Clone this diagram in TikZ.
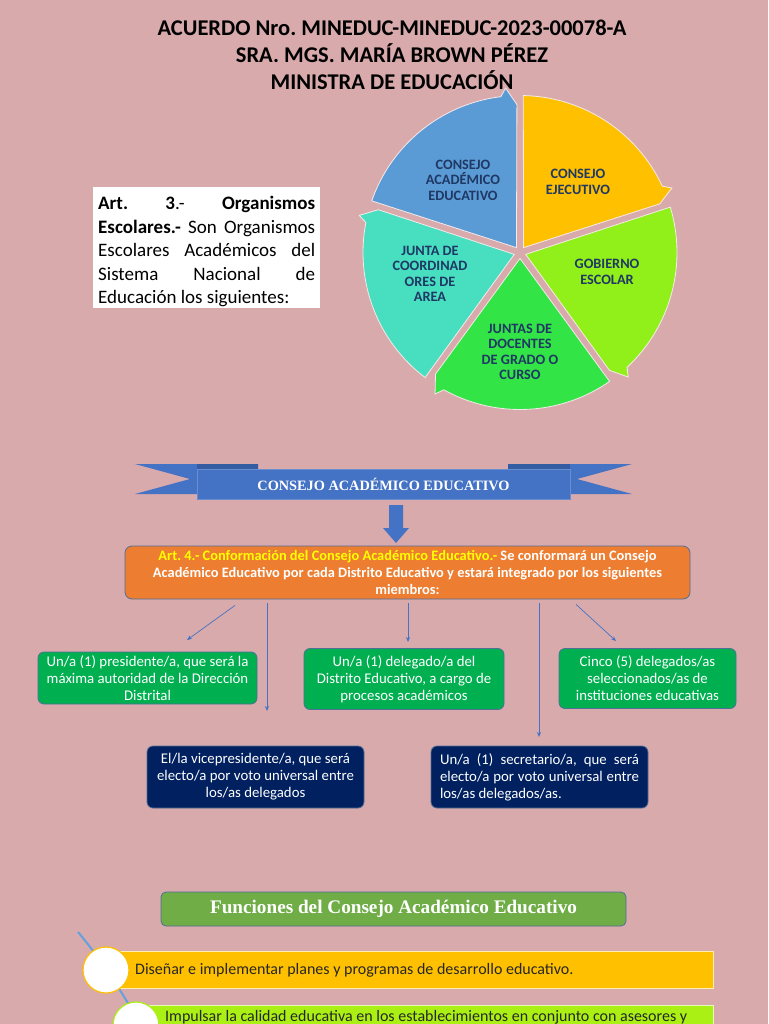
\documentclass[tikz,border=0pt]{standalone}
\usepackage{fontspec}
\setmainfont{Carlito}
\newfontfamily\serifbf{Liberation Serif}
\usetikzlibrary{arrows.meta}
\frenchspacing
\definecolor{bgpink}{RGB}{217,170,172}
\definecolor{segblue}{RGB}{91,155,213}
\definecolor{segyellow}{RGB}{255,192,0}
\definecolor{seglime}{RGB}{146,240,26}
\definecolor{seggreen}{RGB}{50,228,70}
\definecolor{segteal}{RGB}{72,222,192}
\definecolor{navytxt}{RGB}{31,56,100}
\definecolor{ribbon}{RGB}{68,114,196}
\definecolor{ribbondark}{RGB}{52,92,162}
\definecolor{orangebox}{RGB}{237,125,49}
\definecolor{greenbox}{RGB}{0,176,80}
\definecolor{navybox}{RGB}{0,32,96}
\definecolor{funcgreen}{RGB}{112,173,71}
\definecolor{barone}{RGB}{255,192,0}
\definecolor{bartwo}{RGB}{170,240,20}
\definecolor{curveblue}{RGB}{100,160,220}
\definecolor{boxline}{RGB}{80,110,150}
\definecolor{yellowtxt}{RGB}{255,255,0}
\definecolor{bartxt}{RGB}{38,38,38}
\newcommand\pieseg[3]{%
  \filldraw[fill=#1, draw=white!75!bgpink, line width=0.8pt]
  ({(#2+#3)/2}:6) -- ({#2-1.2}:157) arc[start angle={#2-1.2}, end angle={#3+7}, radius=157]
  -- ({#3+5}:165) -- ({#3+1.2}:148) -- cycle;}
\tikzset{
  pielabel/.style={text=navytxt, align=center, font=\bfseries\fontsize{14.3}{15.5}\selectfont, inner sep=0},
  member/.style={rounded corners=6pt, draw=boxline, line width=0.8pt, text=white, align=center,
    font=\fontsize{14.8}{17}\selectfont, inner sep=0},
  conn/.style={draw=ribbon, line width=0.7pt, -{Stealth[length=5pt,width=4pt]}},
}
\begin{document}
\begin{tikzpicture}[x=1pt,y=-1pt]
\fill[bgpink] (0,0) rectangle (768,1024);
\useasboundingbox (0,0) rectangle (768,1024);

% title
\node[font=\bfseries\fontsize{22.5}{27}\selectfont, align=center] (title) at (392,55)
  {ACUERDO Nro. MINEDUC-MINEDUC-2023-00078-A\\SRA. MGS. MARÍA BROWN PÉREZ\\MINISTRA DE EDUCACIÓN};

% pie cycle
\begin{scope}[shift={(520,252.5)}, yscale=-1]
  \pieseg{segblue}{162}{90}
  \pieseg{segyellow}{90}{18}
  \pieseg{seglime}{18}{-54}
  \pieseg{seggreen}{-54}{-126}
  \pieseg{segteal}{234}{162}
\end{scope}
\node[pielabel] (pcae) at (463,180) {CONSEJO\\ACADÉMICO\\EDUCATIVO};
\node[pielabel] (pce) at (578,182) {CONSEJO\\EJECUTIVO};
\node[pielabel] (pge) at (607,272) {GOBIERNO\\ESCOLAR};
\node[pielabel] (pjd) at (520,352) {JUNTAS DE\\DOCENTES\\DE GRADO O\\CURSO};
\node[pielabel] (pjc) at (430,274) {JUNTA DE\\COORDINAD\\ORES DE\\AREA};

% Art. 3 box
\node[fill=white, minimum width=227, minimum height=121, anchor=north west, inner sep=0] (art3box) at (93,187) {};
\node[text width=217, align=justify, anchor=north west, inner sep=0, font=\fontsize{19}{23.5}\selectfont] (art3) at (98,196)
  {\textbf{Art.} \textbf{3}.- \textbf{Organismos}\linebreak \textbf{Escolares.-} Son Organismos\linebreak Escolares Académicos del\linebreak Sistema Nacional de\linebreak Educación los siguientes:};

% ribbon banner
\fill[ribbon] (135,464) -- (258,464) -- (258,494) -- (135,494) -- (190,479) -- cycle;
\fill[ribbon] (632,464) -- (508,464) -- (508,494) -- (632,494) -- (577,479) -- cycle;
\fill[ribbondark] (197,464) rectangle (258,470);
\fill[ribbondark] (508,464) rectangle (570,470);
\node[fill=ribbon, draw=ribbon!80!white, line width=0.6pt, minimum width=373, minimum height=30, inner sep=0,
  text=white, font=\serifbf\bfseries\fontsize{14.3}{16}\selectfont] (ribbon) at (383.5,484.5) {CONSEJO ACADÉMICO EDUCATIVO};

% block arrow
\fill[ribbon] (389,505) -- (403,505) -- (403,528) -- (409,528) -- (396,543) -- (383,528) -- (389,528) -- cycle;

% orange box
\node[rounded corners=7pt, fill=orangebox, draw=boxline, line width=0.8pt, minimum width=565, minimum height=53, inner sep=0,
  text=white, align=center, font=\bfseries\fontsize{14.4}{17}\selectfont] (orange) at (407.5,572.5)
  {{\color{yellowtxt}Art. 4.- Conformación del Consejo Académico Educativo.-} Se conformará un Consejo\\
   Académico Educativo por cada Distrito Educativo y estará integrado por los siguientes\\miembros:};

% members
\node[member, fill=greenbox, minimum width=219, minimum height=52] (pres) at (147.5,678)
  {Un/a (1) presidente/a, que será la\\máxima autoridad de la Dirección\\Distrital};
\node[member, fill=greenbox, minimum width=200, minimum height=61] (deleg) at (404,679)
  {Un/a (1) delegado/a del\\Distrito Educativo, a cargo de\\procesos académicos};
\node[member, fill=greenbox, minimum width=177, minimum height=60] (cinco) at (647.5,678.5)
  {Cinco (5) delegados/as\\seleccionados/as de\\instituciones educativas};
\node[member, fill=navybox, minimum width=217, minimum height=62] (vice) at (255.5,777)
  {El/la vicepresidente/a, que será\\electo/a por voto universal entre\\los/as delegados};
\node[member, fill=navybox, minimum width=217, minimum height=62, text width=199, align=justify] (secr) at (539.5,777)
  {Un/a (1) secretario/a, que será\linebreak electo/a por voto universal entre\linebreak los/as delegados/as.};

% connectors
\coordinate (e1) at (187,640);
\coordinate (e2) at (267,711);
\coordinate (e3) at (408,642);
\coordinate (e4) at (539,737);
\coordinate (e5) at (616,641);
\draw[conn] ([shift={(-172.5,6)}]orange.south) -- (e1);
\draw[conn] ([shift={(-140.5,4)}]orange.south) -- (e2);
\draw[conn] ([shift={(0.5,4)}]orange.south) -- (e3);
\draw[conn] ([shift={(131.5,4)}]orange.south) -- (e4);
\draw[conn] ([shift={(168.5,5)}]orange.south) -- (e5);

% funciones
\node[rounded corners=5pt, fill=funcgreen, draw=boxline, line width=0.8pt, minimum width=465, minimum height=34, inner sep=0,
  text=white, font=\serifbf\bfseries\fontsize{19.2}{20}\selectfont] (func) at (393.5,909) {Funciones del Consejo Académico Educativo};

% list
\coordinate (cva) at (78,932);
\coordinate (cvb) at (145,1034);
\draw[curveblue, line width=2pt] (cva) .. controls (100,958) and (125,995) .. (cvb);
\node[fill=barone, draw=white!70!barone, line width=0.6pt, minimum width=597, minimum height=37, inner sep=0, anchor=west] (bar1) at (116,969.5) {};
\node[fill=bartwo, draw=white!70!bartwo, line width=0.6pt, minimum width=565, minimum height=30, inner sep=0, anchor=north west] (bar2) at (148,1005) {};
\node[circle, fill=white, draw=barone, line width=1.2pt, minimum size=46, inner sep=0] (c1) at (106,970) {};
\node[circle, fill=white, draw=bartwo, line width=1.2pt, minimum size=46, inner sep=0] (c2) at (136,1025) {};
\node[anchor=west, inner sep=0, text=bartxt, font=\fontsize{16}{17}\selectfont] (t1) at (135,970)
  {Diseñar e implementar planes y programas de desarrollo educativo.};
\node[anchor=west, inner sep=0, text=bartxt, font=\fontsize{16}{17}\selectfont] (t2) at (165,1017)
  {Impulsar la calidad educativa en los establecimientos en conjunto con asesores y};
\end{tikzpicture}
\end{document}
